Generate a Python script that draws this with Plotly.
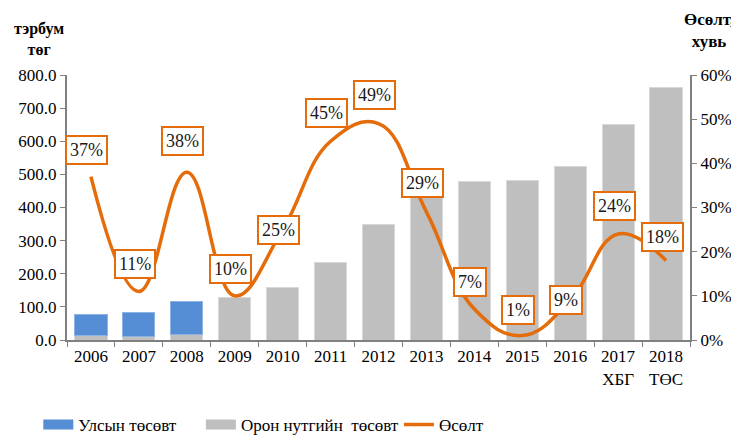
import plotly.graph_objects as go

years = ["2006", "2007", "2008", "2009", "2010", "2011", "2012", "2013",
         "2014", "2015", "2016", "2017<br>ХБГ", "2018<br>ТӨС"]
local_budget = [13, 10, 16, 128, 160, 233, 348, 436, 480, 482, 523, 650, 762]
state_budget = [64, 74, 101, None, None, None, None, None, None, None, None, None, None]
growth = [0.37, 0.11, 0.38, 0.10, 0.25, 0.45, 0.49, 0.29, 0.07, 0.01, 0.09, 0.24, 0.18]
growth_labels = ["37%", "11%", "38%", "10%", "25%", "45%", "49%", "29%", "7%", "1%", "9%", "24%", "18%"]
label_yshift = [27, 27, 31, 27, 0, 28, 29, 29, 27, 26, 0, 28, 24]

BLUE = "#558ED5"
GRAY = "#BFBFBF"
ORANGE = "#E46C0A"
FONT = "Times New Roman, Liberation Serif, serif"

fig = go.Figure()
fig.add_trace(go.Bar(x=years, y=local_budget, marker=dict(color=GRAY, line=dict(color="#D9D9D9", width=1)),
                     width=0.67, showlegend=False, name="Орон нутгийн  төсөвт"))
fig.add_trace(go.Bar(x=years, y=state_budget, marker=dict(color=BLUE, line=dict(color="#8DB3E2", width=1)),
                     width=0.67, showlegend=False, name="Улсын төсөвт"))
fig.add_trace(go.Scatter(x=years, y=growth, yaxis="y2", mode="lines",
                         line=dict(color=ORANGE, width=3.5, shape="spline", smoothing=1.2),
                         showlegend=False, name="Өсөлт"))

# legend entries
fig.add_trace(go.Scatter(x=[years[0]], y=[None], mode="lines", line=dict(color=BLUE, width=10),
                         name="Улсын төсөвт", legend="legend"))
fig.add_trace(go.Scatter(x=[years[0]], y=[None], mode="lines", line=dict(color=GRAY, width=10),
                         name="Орон нутгийн  төсөвт", legend="legend2"))
fig.add_trace(go.Scatter(x=[years[0]], y=[None], mode="lines", line=dict(color=ORANGE, width=3.5),
                         name="Өсөлт", legend="legend3"))

for i, (g, lab, ys) in enumerate(zip(growth, growth_labels, label_yshift)):
    fig.add_annotation(x=i, y=g, yref="y2", text=lab, showarrow=False, xshift=-4, yshift=ys,
                       font=dict(family=FONT, size=18, color="#1a1a1a"),
                       bgcolor="white", bordercolor=ORANGE, borderwidth=2, borderpad=3)

fig.add_annotation(x=-0.045, xref="paper", y=1.057, yref="paper", text="<b>тэрбум<br>төг</b>",
                   showarrow=False, font=dict(family=FONT, size=16, color="black"), align="center",
                   xanchor="center", yanchor="bottom")
fig.add_annotation(x=1.03, xref="paper", y=1.083, yref="paper", text="<b>Өсөлт,<br>хувь</b>",
                   showarrow=False, font=dict(family=FONT, size=17, color="black"), align="center",
                   xanchor="center", yanchor="bottom")

leg_common = dict(orientation="h", yanchor="middle", yref="container", y=0.048, xanchor="left",
                  xref="container",
                  font=dict(family=FONT, size=17, color="black"), bgcolor="rgba(0,0,0,0)")
fig.update_layout(
    width=739, height=438,
    margin=dict(l=59, r=57, t=67, b=106, autoexpand=False),
    paper_bgcolor="white", plot_bgcolor="white",
    barmode="stack",
    font=dict(family=FONT, size=17, color="black"),
    xaxis=dict(type="category", categoryorder="array", categoryarray=years, range=[-0.5, len(years) - 0.5],
               showline=True, linecolor="#808080", linewidth=2, tickangle=0,
               ticks="outside", tickson="boundaries", ticklen=5, tickcolor="#808080",
               tickfont=dict(family=FONT, size=17, color="black")),
    yaxis=dict(range=[0, 800], dtick=100, tickformat=".1f", showgrid=False, zeroline=False,
               showline=True, linecolor="#808080", linewidth=2, ticks="outside", ticklen=5,
               tickcolor="#808080", tickfont=dict(family=FONT, size=17, color="black")),
    yaxis2=dict(range=[0, 0.6], dtick=0.1, tickformat=".0%", overlaying="y", side="right",
                showgrid=False, zeroline=False, showline=True, linecolor="#808080", linewidth=2,
                ticks="outside", ticklen=5, tickcolor="#808080",
                tickfont=dict(family=FONT, size=17, color="black")),
    legend=dict(x=0.041, **leg_common),
    legend2=dict(x=0.261, **leg_common),
    legend3=dict(x=0.529, **leg_common),
)

fig.write_html("out.html")
